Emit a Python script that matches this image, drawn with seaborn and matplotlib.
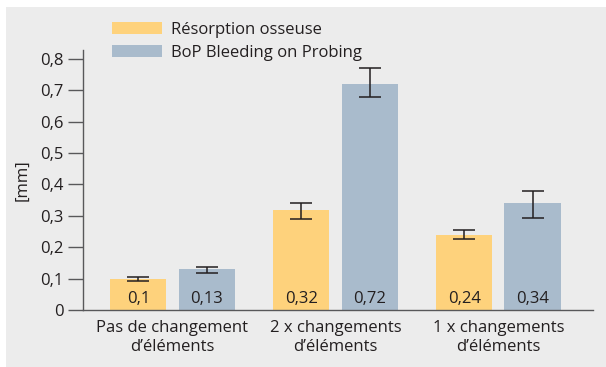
import matplotlib
matplotlib.use("Agg")
import matplotlib.pyplot as plt
from matplotlib.patches import Rectangle
import seaborn as sns
import pandas as pd

# Data
categories = ["Pas de changement\nd’éléments", "2 x changements\nd’éléments", "1 x changements\nd’éléments"]
series = ["Résorption osseuse", "BoP Bleeding on Probing"]
resorption = [0.10, 0.32, 0.24]
bop = [0.13, 0.72, 0.34]
resorption_low = [0.092, 0.290, 0.227]
resorption_high = [0.106, 0.340, 0.254]
bop_low = [0.117, 0.680, 0.293]
bop_high = [0.137, 0.770, 0.380]
value_labels = [["0,1", "0,32", "0,24"], ["0,13", "0,72", "0,34"]]
yticks = [0, 0.1, 0.2, 0.3, 0.4, 0.5, 0.6, 0.7, 0.8]
ytick_labels = ["0", "0,1", "0,2", "0,3", "0,4", "0,5", "0,6", "0,7", "0,8"]

colors = ["#FED27C", "#A9BBCC"]
ink = "#231F20"
axis_color = "#58585A"
fs = 12

sns.set_theme(style="white")
plt.rcParams["font.family"] = ["Open Sans", "DejaVu Sans"]

df = pd.DataFrame({
    "cat": categories * 2,
    "series": [series[0]] * 3 + [series[1]] * 3,
    "val": resorption + bop,
})

fig = plt.figure(figsize=(6.06, 3.67), dpi=100, facecolor="white")
fig.patches.append(Rectangle((6 / 606, 0), 1, 1 - 7 / 367, transform=fig.transFigure,
                             facecolor="#ECECEC", edgecolor="none", zorder=-10))
ax = fig.add_axes([83 / 606, 1 - 310 / 367, 510 / 606, (310 - 49.5) / 367])
ax.set_facecolor("none")

sns.barplot(data=df, x="cat", y="val", hue="series", palette=colors,
            width=0.836, gap=0.177, errorbar=None, saturation=1, ax=ax,
            linewidth=0, edgecolor="none")

lows = [resorption_low, bop_low]
highs = [resorption_high, bop_high]
bars = sorted([p for p in ax.patches if p.get_height() > 0], key=lambda p: p.get_x())
for idx, bar in enumerate(bars):
    i, k = divmod(idx, 2)
    cx = bar.get_x() + bar.get_width() / 2
    v = bar.get_height()
    ax.errorbar(cx, v, yerr=[[v - lows[k][i]], [highs[k][i] - v]],
                fmt="none", ecolor=ink, elinewidth=1.1, capsize=7.8,
                capthick=1.1, zorder=5)
    ax.annotate(value_labels[k][i], (cx, 0), xytext=(0, 7.6),
                textcoords="offset points", ha="center", va="center",
                fontsize=fs, color=ink)

ax.set_xlim(-0.549, 2.58)
ax.set_ylim(0, 0.83)
ax.set_yticks(yticks)
ax.set_yticklabels(ytick_labels)
ax.set_xlabel("")
ax.set_ylabel("[mm]", fontsize=fs, color=ink, labelpad=7)

for side in ["top", "right"]:
    ax.spines[side].set_visible(False)
for side in ["left", "bottom"]:
    ax.spines[side].set_color(axis_color)
    ax.spines[side].set_linewidth(1.0)

ax.tick_params(axis="y", direction="out", length=11, width=1.0, color=axis_color,
               labelsize=fs, labelcolor=ink, pad=3.0, left=True)
ax.tick_params(axis="x", length=0, labelsize=fs, labelcolor=ink, pad=7)
for t in ax.get_xticklabels():
    t.set_linespacing(1.25)

handles, labels = ax.get_legend_handles_labels()
ax.legend(handles, labels, loc="upper left",
          bbox_to_anchor=(112 / 606, 1 - 21.5 / 367), bbox_transform=fig.transFigure,
          frameon=False, fontsize=fs, handlelength=3.0, handleheight=0.72,
          handletextpad=0.54, labelspacing=0.45, borderpad=0, borderaxespad=0,
          labelcolor=ink)

fig.savefig("out.png", dpi=100, facecolor="white")
